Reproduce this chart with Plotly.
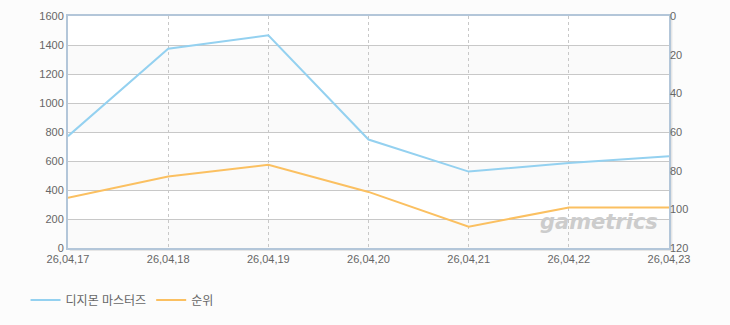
import plotly.graph_objects as go

dates = ["26,04,17", "26,04,18", "26,04,19", "26,04,20", "26,04,21", "26,04,22", "26,04,23"]
viewers = [771, 1374, 1467, 748, 527, 586, 633]
rank = [94, 83, 77, 91, 109, 99, 99]
left_ticks = [0, 200, 400, 600, 800, 1000, 1200, 1400, 1600]
right_ticks = [0, 20, 40, 60, 80, 100, 120]
name_a = "디지몬 마스터즈"
name_b = "순위"

FONT = "Liberation Sans, Noto Sans CJK KR, sans-serif"
TXT = "#666666"
AXIS = "#b3c6d9"

fig = go.Figure()
fig.add_trace(go.Scatter(x=dates, y=viewers, name=name_a, mode="lines",
                         line=dict(color="#94d1f0", width=2), yaxis="y"))
fig.add_trace(go.Scatter(x=dates, y=rank, name=name_b, mode="lines",
                         line=dict(color="#fbc061", width=2), yaxis="y2"))

shapes = []
for i in range(len(left_ticks) - 1):
    if (len(left_ticks) - 2 - i) % 2 == 0:
        shapes.append(dict(type="rect", xref="paper", yref="y", x0=0, x1=1,
                           y0=left_ticks[i], y1=left_ticks[i + 1],
                           fillcolor="#ffffff", line=dict(width=0), layer="below"))
# subtle shadow along bottom/right
shapes.append(dict(type="line", xref="paper", yref="paper", x0=0.003, x1=1.004, y0=-0.009, y1=-0.009,
                   line=dict(color="#e6e6e6", width=2), layer="below"))
shapes.append(dict(type="line", xref="paper", yref="paper", x0=1.004, x1=1.004, y0=-0.009, y1=0.99,
                   line=dict(color="#e6e6e6", width=2), layer="below"))

fig.update_layout(
    width=730, height=325,
    margin=dict(l=68, r=61, t=16, b=77, autoexpand=False),
    paper_bgcolor="#fcfcfc", plot_bgcolor="#fafafa",
    font=dict(family=FONT, size=11, color=TXT),
    shapes=shapes,
    showlegend=True,
    legend=dict(orientation="h", xref="container", yref="container",
                x=0.035, y=0.077, xanchor="left", yanchor="middle",
                font=dict(size=12, color=TXT), bgcolor="rgba(0,0,0,0)",
                itemwidth=30, tracegroupgap=0),
    xaxis=dict(type="category", range=[0, len(dates) - 1], showgrid=True,
               gridcolor="#c8c8c8", griddash="3px,3px", gridwidth=1,
               showline=True, linecolor=AXIS, linewidth=2, mirror=True,
               ticks="", tickfont=dict(size=11, color=TXT), zeroline=False),
    yaxis=dict(range=[0, 1600], tickvals=left_ticks, showgrid=True, gridcolor="#c8c8c8",
               gridwidth=1, showline=True, linecolor=AXIS, linewidth=2, mirror=True,
               ticks="", zeroline=False, tickfont=dict(size=11, color=TXT)),
    yaxis2=dict(range=[120, 0], tickvals=right_ticks, overlaying="y", side="right",
                showgrid=False, showline=False, ticks="", zeroline=False,
                tickfont=dict(size=11, color=TXT)),
    annotations=[dict(text="<b><i>gametrics</i></b>", xref="paper", yref="paper",
                      x=0.985, y=0.05, xanchor="right", yanchor="bottom", showarrow=False,
                      font=dict(size=21, color="#cccccc", family="DejaVu Sans"))],
)

fig.write_html("out.html")
